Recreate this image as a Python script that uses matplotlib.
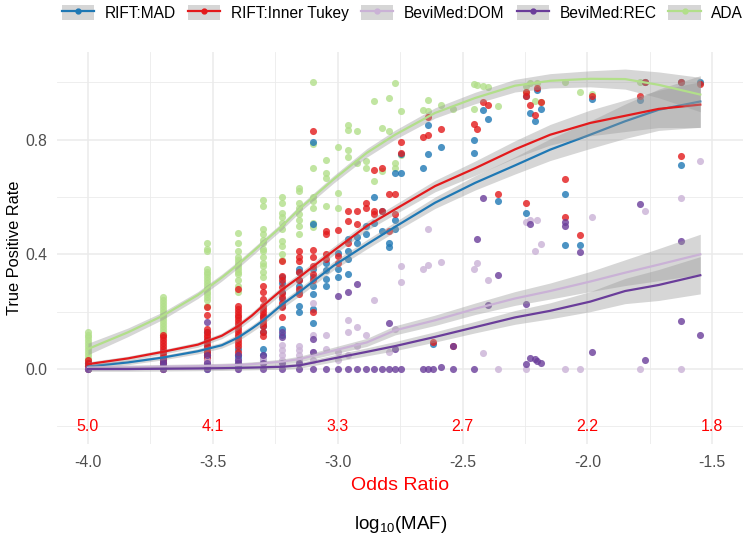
"""TPR vs log10(MAF) for RIFT / BeviMed / ADA, points plus smoothed fits."""
import numpy as np
import matplotlib
matplotlib.use("Agg")
import matplotlib.pyplot as plt
from matplotlib.lines import Line2D
from matplotlib.patches import Patch
from matplotlib.ticker import MultipleLocator

plt.rcParams["font.family"] = ["Liberation Sans", "DejaVu Sans"]
plt.rcParams["mathtext.default"] = "regular"

methods = ["RIFT:MAD", "RIFT:Inner Tukey", "BeviMed:DOM", "BeviMed:REC", "ADA"]
colors = ["#1F78B4", "#E31A1C", "#CAB2D6", "#6A3D9A", "#B2DF8A"]

# log10(MAF) of each simulated scenario (columns of points)
x_cols = [-4.0, -3.699, -3.523, -3.398, -3.301, -3.222, -3.155, -3.097, -3.046, -3.0,
          -2.959, -2.921, -2.886, -2.854, -2.824, -2.796, -2.770, -2.746, -2.658, -2.638,
          -2.620, -2.585, -2.538, -2.456, -2.444, -2.420, -2.398, -2.357, -2.244, -2.229,
          -2.208, -2.200, -2.187, -2.090, -2.030, -1.983, -1.788, -1.770, -1.627, -1.548]

# true positive rates per column, one list per method
mad_pts = [
    [0.0, 0.01, 0.02], [0.0, 0.02, 0.04, 0.06],
    [0.13, 0.10, 0.08, 0.06, 0.05, 0.04, 0.03, 0.02, 0.01, 0.0],
    [0.07, 0.05, 0.04, 0.03, 0.02, 0.01], [0.18, 0.15, 0.13, 0.07, 0.05, 0.03],
    [0.32, 0.30, 0.27, 0.245, 0.22, 0.14, 0.12], [0.35, 0.34, 0.31, 0.29, 0.27, 0.22, 0.20],
    [0.79, 0.505, 0.35, 0.32, 0.29, 0.26, 0.21, 0.16], [0.37, 0.345, 0.315, 0.29],
    [0.405, 0.35, 0.32], [0.455, 0.41, 0.385, 0.33], [0.46, 0.44], [0.50, 0.47],
    [0.60, 0.51], [0.55, 0.48], [0.44, 0.425], [0.685, 0.52, 0.49], [0.75, 0.685],
    [0.70], [0.852, 0.75], [0.087], [0.775], [], [0.797, 0.754], [], [0.902], [0.873],
    [0.585], [0.953, 0.543], [0.893], [0.866], [0.972], [0.907], [0.609, 0.431], [0.431],
    [0.943], [0.939], [1.0], [1.0, 0.71], [1.0],
]
tukey_pts = [
    [0.0, 0.01, 0.02, 0.03],
    [0.0, 0.01, 0.02, 0.03, 0.04, 0.05, 0.06, 0.07, 0.08, 0.09, 0.10, 0.11, 0.12],
    [0.215, 0.19, 0.14, 0.13, 0.12, 0.11, 0.10, 0.09, 0.08, 0.07, 0.06, 0.05, 0.04, 0.03, 0.02],
    [0.28, 0.22, 0.21, 0.20, 0.19, 0.18, 0.17, 0.16, 0.15, 0.14, 0.13, 0.12, 0.11, 0.10,
     0.09, 0.08, 0.06],
    [0.29, 0.27, 0.245, 0.22, 0.21, 0.20, 0.19, 0.18, 0.17, 0.16, 0.15, 0.13, 0.115],
    [0.375, 0.325, 0.31, 0.285, 0.265, 0.25, 0.23, 0.215, 0.18],
    [0.41, 0.39, 0.375, 0.34, 0.31, 0.28, 0.26],
    [0.83, 0.415, 0.39, 0.36, 0.33, 0.31, 0.20], [0.48, 0.47, 0.40, 0.385],
    [0.485, 0.395, 0.37], [0.55, 0.515, 0.44], [0.55, 0.505], [0.58, 0.56],
    [0.695, 0.55, 0.54], [0.70, 0.55], [0.61, 0.48], [0.61, 0.54], [0.79, 0.755],
    [0.81], [0.88, 0.817], [0.095], [0.838], [0.08], [0.855], [0.838], [0.93], [0.922],
    [0.609], [0.965, 0.953, 0.58], [0.919], [0.887], [0.98], [0.93], [0.663, 0.531],
    [0.466], [0.953], [0.951], [1.0], [1.0, 0.742], [0.995],
]
dom_pts = [
    [0.0], [0.0, 0.01], [0.0, 0.01, 0.02, 0.03], [0.03, 0.02, 0.0], [0.04, 0.03, 0.02],
    [0.085, 0.065, 0.05, 0.03], [0.08, 0.065, 0.05, 0.03], [0.23, 0.12, 0.06, 0.03],
    [0.12, 0.07], [0.06, 0.03], [0.17, 0.13, 0.05], [0.145, 0.08], [0.12], [0.24], [],
    [0.06], [0.14], [0.36, 0.305], [0.348], [0.487, 0.362], [], [0.373], [], [0.35],
    [0.371], [0.056], [0.31], [0.0], [0.514, 0.0], [0.52], [0.41], [0.518], [0.435],
    [0.0], [0.0], [0.531], [0.0], [0.551], [0.597, 0.0], [0.727],
]
rec_pts = [
    [0.0], [0.0, 0.01, 0.02, 0.03], [0.165, 0.05, 0.02, 0.01, 0.0], [0.05, 0.03, 0.02, 0.0],
    [0.05, 0.02, 0.0], [0.13, 0.11, 0.02, 0.0], [0.02, 0.0], [0.105, 0.06, 0.0], [0.0],
    [0.255, 0.0], [0.27, 0.0], [0.295, 0.0], [0.0], [0.0], [0.0], [0.16, 0.0], [0.07, 0.0],
    [0.0], [0.0], [0.0], [0.0], [0.006], [0.0, 0.08], [0.0], [0.452], [0.597], [0.224],
    [0.327], [0.228, 0.017], [0.504, 0.04], [0.035], [0.027], [0.021], [0.512, 0.50],
    [0.408], [0.061], [0.577], [0.032], [0.446, 0.168], [0.118],
]
ada_pts = [
    [0.0, 0.01, 0.02, 0.03, 0.04, 0.05, 0.06, 0.07, 0.08, 0.09, 0.10, 0.11, 0.12, 0.13],
    [0.12, 0.13, 0.14, 0.15, 0.16, 0.17, 0.18, 0.19, 0.20, 0.21, 0.22, 0.23, 0.24, 0.25],
    [0.44, 0.42, 0.41, 0.35, 0.34, 0.33, 0.32, 0.31, 0.30, 0.29, 0.28, 0.27, 0.26, 0.25,
     0.24, 0.22],
    [0.475, 0.44, 0.41, 0.39, 0.38, 0.37, 0.36, 0.35, 0.34, 0.33, 0.31, 0.29, 0.27],
    [0.59, 0.57, 0.49, 0.47, 0.45, 0.44, 0.42, 0.41, 0.39, 0.37, 0.36, 0.34, 0.32],
    [0.60, 0.58, 0.545, 0.53, 0.51, 0.49, 0.445, 0.43, 0.40, 0.38],
    [0.63, 0.62, 0.58, 0.56, 0.54, 0.52, 0.50, 0.47],
    [1.0, 0.785, 0.70, 0.60, 0.585, 0.56, 0.51, 0.495], [0.73, 0.685, 0.665, 0.57],
    [0.775, 0.615, 0.56], [0.85, 0.835, 0.765, 0.74], [0.83, 0.72], [0.725, 0.70],
    [0.935, 0.655], [0.84, 0.69], [0.945, 0.83], [0.997, 0.72, 0.70], [0.90, 0.745],
    [0.904], [0.937, 0.90], [], [0.92], [0.906], [0.995, 0.908], [0.99], [0.988], [0.984],
    [0.918], [0.988, 0.965], [0.997], [0.933], [0.997], [0.93], [1.0], [0.966], [0.958],
    [1.0], [1.0], [1.0], [0.997],
]

# fitted curves and half-width of their confidence band
fit_x = [-4.0, -3.84, -3.70, -3.56, -3.464, -3.398, -3.344, -3.30, -3.221, -3.151, -3.017,
         -2.883, -2.77, -2.61, -2.45, -2.29, -2.149, -1.989, -1.849, -1.715, -1.548]
mad_fit = [0.009, 0.023, 0.04, 0.062, 0.083, 0.11, 0.141, 0.168, 0.226, 0.27, 0.36, 0.435,
           0.496, 0.58, 0.649, 0.71, 0.765, 0.817, 0.864, 0.904, 0.933]
mad_se = [0.008, 0.008, 0.008, 0.009, 0.01, 0.012, 0.012, 0.013, 0.013, 0.014, 0.015, 0.016,
          0.017, 0.02, 0.025, 0.03, 0.038, 0.048, 0.06, 0.072, 0.09]
tukey_fit = [0.017, 0.037, 0.06, 0.085, 0.116, 0.15, 0.186, 0.22, 0.278, 0.322, 0.412, 0.499,
             0.557, 0.638, 0.70, 0.766, 0.817, 0.858, 0.883, 0.907, 0.922]
tukey_se = [0.008, 0.008, 0.008, 0.009, 0.01, 0.012, 0.012, 0.013, 0.013, 0.014, 0.015, 0.016,
            0.017, 0.02, 0.025, 0.03, 0.036, 0.045, 0.055, 0.065, 0.08]
dom_fit = [0.005, 0.006, 0.008, 0.01, 0.012, 0.014, 0.017, 0.02, 0.026, 0.035, 0.064, 0.093,
           0.135, 0.17, 0.21, 0.246, 0.272, 0.305, 0.336, 0.364, 0.40]
dom_se = [0.008, 0.008, 0.008, 0.008, 0.008, 0.008, 0.008, 0.008, 0.009, 0.01, 0.012, 0.014,
          0.016, 0.018, 0.02, 0.024, 0.028, 0.035, 0.045, 0.056, 0.07]
rec_fit = [0.0, 0.0, 0.001, 0.002, 0.003, 0.004, 0.005, 0.006, 0.008, 0.013, 0.037, 0.06,
           0.08, 0.112, 0.146, 0.18, 0.203, 0.235, 0.272, 0.293, 0.327]
rec_se = [0.008, 0.008, 0.008, 0.008, 0.008, 0.008, 0.008, 0.008, 0.009, 0.01, 0.012, 0.014,
          0.016, 0.018, 0.02, 0.024, 0.028, 0.035, 0.044, 0.054, 0.065]
ada_fit = [0.07, 0.128, 0.186, 0.258, 0.319, 0.365, 0.406, 0.44, 0.50, 0.56, 0.661, 0.754,
           0.817, 0.893, 0.945, 0.988, 1.005, 1.012, 1.011, 0.991, 0.957]
ada_se = [0.02, 0.015, 0.013, 0.012, 0.012, 0.012, 0.012, 0.012, 0.012, 0.012, 0.013, 0.015,
          0.016, 0.018, 0.02, 0.022, 0.025, 0.028, 0.035, 0.045, 0.06]

# odds ratio that goes with each MAF tick
or_pos = [-4.0, -3.5, -3.0, -2.5, -2.0, -1.5]
or_labels = ["5.0", "4.1", "3.3", "2.7", "2.2", "1.8"]

pts = [mad_pts, tukey_pts, dom_pts, rec_pts, ada_pts]
fits = [mad_fit, tukey_fit, dom_fit, rec_fit, ada_fit]
ses = [mad_se, tukey_se, dom_se, rec_se, ada_se]

fig = plt.figure(figsize=(7.5, 5.4), dpi=100)
ax = fig.add_axes([0.076, 0.178, 0.915, 0.726])

# points: ADA first, the rest on top
for i in [4, 0, 1, 2, 3]:
    xs, ys = [], []
    for xc, col in zip(x_cols, pts[i]):
        xs += [xc] * len(col)
        ys += col
    ax.scatter(xs, ys, s=26, color=colors[i], alpha=0.8, linewidths=0, zorder=2)

for i in range(5):
    f = np.array(fits[i])
    se = np.array(ses[i])
    ax.fill_between(fit_x, f - se, f + se, color="#999999", alpha=0.4, linewidth=0, zorder=3)
    ax.plot(fit_x, f, color=colors[i], lw=1.6, zorder=3)

for xp, lab in zip(or_pos, or_labels):
    ax.text(xp, -0.2, lab, color="red", fontsize=11.5, ha="center", va="center")

ax.set_xlim(-4.124, -1.376)
ax.set_ylim(-0.261, 1.106)
ax.set_xticks(or_pos)
ax.set_xticklabels(["%.1f" % v for v in or_pos])
ax.set_yticks([0.0, 0.4, 0.8])
ax.set_yticklabels(["0.0", "0.4", "0.8"])
ax.xaxis.set_minor_locator(MultipleLocator(0.25))
ax.yaxis.set_minor_locator(MultipleLocator(0.2))
ax.grid(which="major", color="#EBEBEB", lw=1.1, zorder=0)
ax.grid(which="minor", color="#EBEBEB", lw=0.6, zorder=0)
ax.set_axisbelow(True)
for s in ax.spines.values():
    s.set_visible(False)
ax.tick_params(which="both", length=0, labelsize=11.3, labelcolor="#4D4D4D")
ax.tick_params(axis="x", pad=8)
ax.tick_params(axis="y", pad=7)
ax.set_ylabel("True Positive Rate", fontsize=11.8, labelpad=2)

ax.text(0.5, -0.105, "Odds Ratio", color="red", fontsize=14, ha="center", va="center",
        transform=ax.transAxes)
ax.text(0.5, -0.206, r"log$_{10}$(MAF)", fontsize=13.5, ha="center", va="center",
        transform=ax.transAxes)

handles = [(Patch(facecolor="#999999", alpha=0.4, edgecolor="none"),
            Line2D([], [], color=c, lw=1.6, marker="o", ms=3.5)) for c in colors]
fig.legend(handles, methods, loc="center", bbox_to_anchor=(0.537, 0.9765), ncol=5,
           frameon=False, fontsize=11.2, handlelength=2.06, handleheight=1.16,
           handletextpad=0.69, columnspacing=0.78, borderaxespad=0, borderpad=0)

fig.savefig("out.png", dpi=100)
